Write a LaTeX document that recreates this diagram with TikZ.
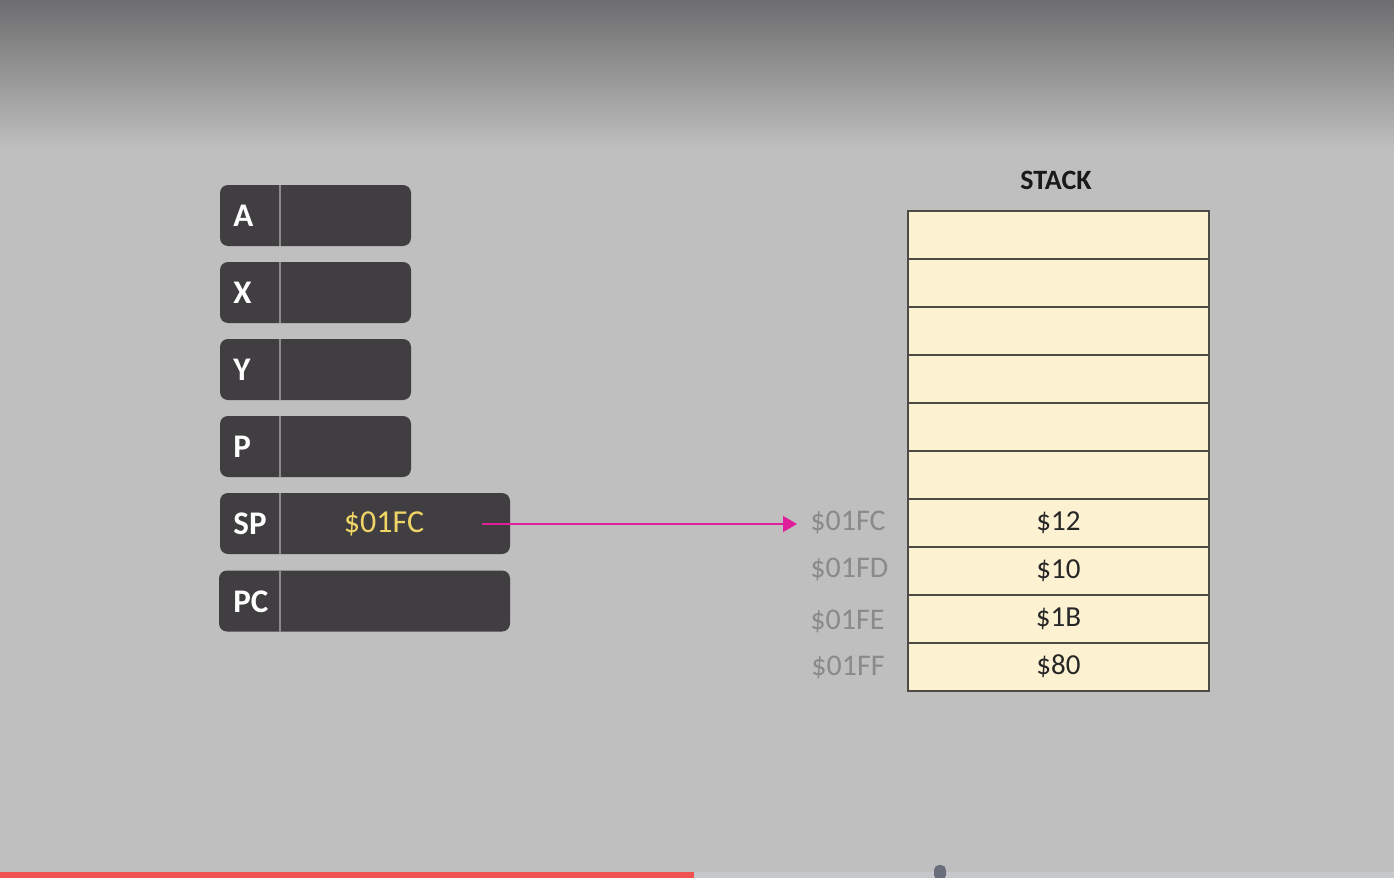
\documentclass[tikz,border=0pt]{standalone}
\usepackage{fontspec}
\setmainfont{Carlito}
\usetikzlibrary{arrows.meta}
\definecolor{bgtop}{HTML}{6D6D6F}
\definecolor{bgmain}{HTML}{BFBFBF}
\definecolor{regfill}{HTML}{403E41}
\definecolor{regdiv}{HTML}{8C8C8C}
\definecolor{spyellow}{HTML}{F0D466}
\definecolor{cellfill}{HTML}{FCF2D2}
\definecolor{celldraw}{HTML}{4E4B46}
\definecolor{addrgray}{HTML}{8A8A8A}
\definecolor{ptrcol}{HTML}{E0209A}
\definecolor{barred}{HTML}{F05252}
\definecolor{bargray}{HTML}{C6C7CB}
\definecolor{knob}{HTML}{6A6E7A}
\tikzset{
  regbox/.style={draw=none, fill=regfill, rounded corners=4pt, inner sep=0pt,
    minimum height=30.5pt},
  regdivline/.style={draw=regdiv, line width=1pt},
  reglabel/.style={anchor=west, text=white, font=\fontsize{16.5}{19}\selectfont\bfseries, inner sep=0pt},
  regval/.style={text=spyellow, font=\fontsize{16}{19}\selectfont, inner sep=0pt},
  cell/.style={draw=celldraw, fill=cellfill, line width=1pt, minimum width=150.5pt,
    minimum height=24pt, inner sep=0pt, font=\fontsize{14.5}{17}\selectfont, text=black!85},
  addr/.style={anchor=west, text=addrgray, font=\fontsize{15}{18}\selectfont, inner sep=0pt},
  ptr/.style={draw=ptrcol, line width=0.7pt, -{Triangle[length=7pt,width=8pt]}},
  title/.style={font=\fontsize{14}{17}\selectfont\bfseries, text=black!90}
}
\begin{document}
\begin{tikzpicture}[x=0.5pt, y=-0.5pt]
  % background
  \useasboundingbox (0,0) rectangle (1394,878);
  \fill[bgmain] (0,0) rectangle (1394,878);
  \shade[top color=bgtop, bottom color=bgmain] (0,0) rectangle (1394,150);
  % progress bar
  \fill[bargray] (0,872) rectangle (1394,878);
  \fill[barred] (0,872) rectangle (694,878);
  \fill[knob, rounded corners=2.5pt] (934,880) -- (934,865) -- (946,865) -- (946,880) -- cycle;

  % registers
  \node[regbox, minimum width=95.5pt] (regA) at (315.5,215.5) {};
  \node[regbox, minimum width=95.5pt] (regX) at (315.5,292.5) {};
  \node[regbox, minimum width=95.5pt] (regY) at (315.5,369.5) {};
  \node[regbox, minimum width=95.5pt] (regP) at (315.5,446.5) {};
  \node[regbox, minimum width=145pt] (regSP) at (365,523.5) {};
  \node[regbox, minimum width=145.5pt] (regPC) at (364.5,601) {};
  \draw[regdivline] (280,185) -- (280,246);
  \draw[regdivline] (280,262) -- (280,323);
  \draw[regdivline] (280,339) -- (280,400);
  \draw[regdivline] (280,416) -- (280,477);
  \draw[regdivline] (280,493) -- (280,554);
  \draw[regdivline] (280,571) -- (280,632);
  \node[reglabel] (lA) at (233,216) {A};
  \node[reglabel] (lX) at (233,293) {X};
  \node[reglabel] (lY) at (233,370) {Y};
  \node[reglabel] (lP) at (233,447) {P};
  \node[reglabel] (lSP) at (233,524) {SP};
  \node[reglabel] (lPC) at (233,601.5) {PC};
  \node[regval] (spval) at (384,524) {\$01FC};

  % stack
  \node[title] (stitle) at (1056,180) {STACK};
  \node[cell] (c1) at (1058.5,234.5) {};
  \node[cell] (c2) at (1058.5,282.5) {};
  \node[cell] (c3) at (1058.5,330.5) {};
  \node[cell] (c4) at (1058.5,378.5) {};
  \node[cell] (c5) at (1058.5,426.5) {};
  \node[cell] (c6) at (1058.5,474.5) {};
  \node[cell] (c7) at (1058.5,522.5) {\$12};
  \node[cell] (c8) at (1058.5,570.5) {\$10};
  \node[cell] (c9) at (1058.5,618.5) {\$1B};
  \node[cell] (c10) at (1058.5,666.5) {\$80};

  % addresses
  \node[addr] (afc) at (810,522.5) {\$01FC};
  \node[addr] (afd) at (810,569.5) {\$01FD};
  \node[addr] (afe) at (810,621.5) {\$01FE};
  \node[addr] (aff) at (811,667.5) {\$01FF};

  % pointer
  \coordinate (pstart) at (482,524);
  \draw[ptr] (pstart) -- ([xshift=-6.5pt,yshift=-0.75pt]afc.west);
\end{tikzpicture}
\end{document}
